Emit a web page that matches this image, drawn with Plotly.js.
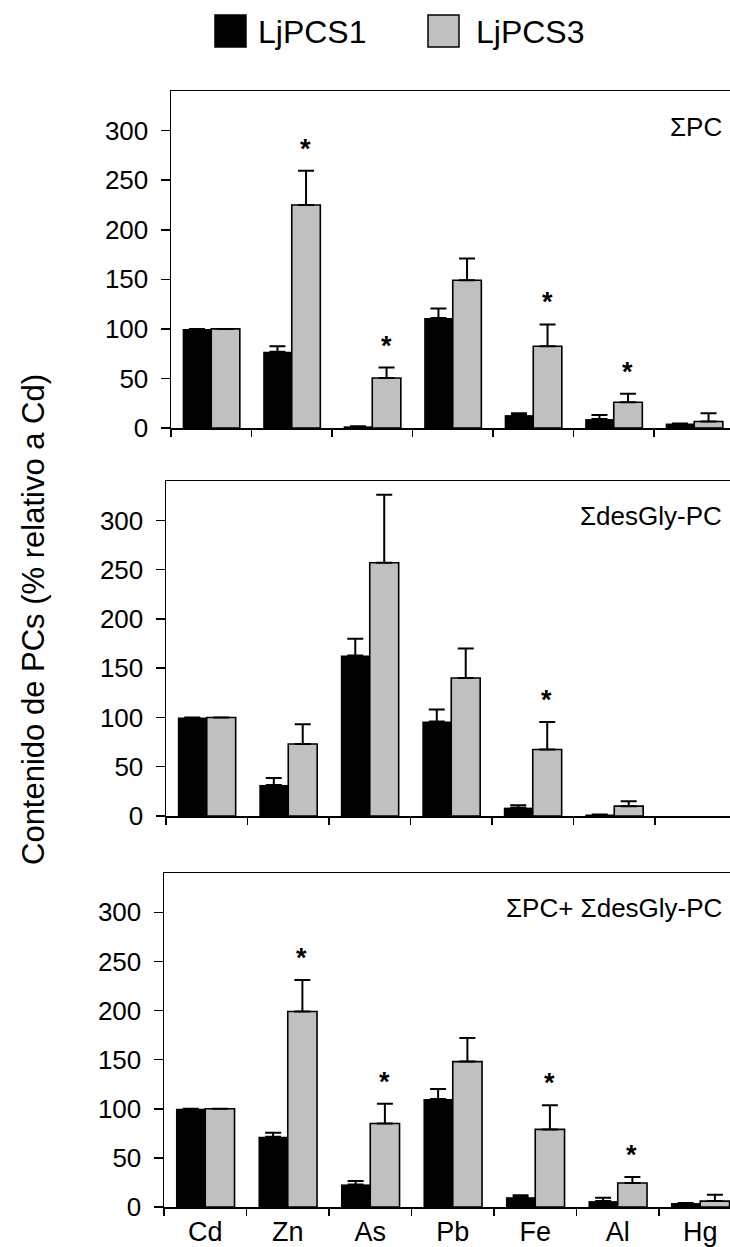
<!DOCTYPE html>
<html>
<head>
<meta charset="utf-8">
<script src="https://cdn.plot.ly/plotly-3.0.1.min.js"></script>
<style>html,body{margin:0;padding:0;background:#fff;}#chart{width:730px;height:1247px;}</style>
</head>
<body>
<div id="chart"></div>
<script>
const categories = ['Cd', 'Zn', 'As', 'Pb', 'Fe', 'Al', 'Hg'];
const seriesNames = ['LjPCS1', 'LjPCS3'];
const panelLabels = ['ΣPC', 'ΣdesGly-PC', 'ΣPC+ ΣdesGly-PC'];
const yTickVals = [0, 50, 100, 150, 200, 250, 300];
const yTitle = 'Contenido de PCs (% relativo a Cd)';

// Panel 1: ΣPC
const pcS1 = [100, 77, 1.7, 111, 13, 9, 4.5];
const pcS1Err = [0, 5.5, 0, 9.5, 2, 4, 0];
const pcS3 = [100, 225, 50.5, 149, 82.5, 26, 6.5];
const pcS3Err = [0, 34.5, 10.5, 22, 22, 8.5, 8.5];
const pcStars = [0, 1, 1, 0, 1, 1, 0];

// Panel 2: ΣdesGly-PC (Hg not detected)
const desS1 = [100, 31.5, 163, 96, 8.5, 1.5, null];
const desS1Err = [0, 7, 17, 12, 2.5, 0, 0];
const desS3 = [100, 73, 257, 140, 67.5, 10, null];
const desS3Err = [0, 20, 69, 30, 28, 5, 0];
const desStars = [0, 0, 0, 0, 1, 0, 0];

// Panel 3: ΣPC + ΣdesGly-PC
const totS1 = [100, 71.5, 23, 110, 10, 6, 4];
const totS1Err = [0, 4, 3.5, 10, 2, 3.5, 0];
const totS3 = [100, 199, 85, 148, 79, 24.5, 6];
const totS3Err = [0, 32, 20, 24, 24.5, 6, 6.5];
const totStars = [0, 1, 1, 0, 1, 1, 0];

const panels = [
  {s1: pcS1, e1: pcS1Err, s3: pcS3, e3: pcS3Err, stars: pcStars},
  {s1: desS1, e1: desS1Err, s3: desS3, e3: desS3Err, stars: desStars},
  {s1: totS1, e1: totS1Err, s3: totS3, e3: totS3Err, stars: totStars}
];

const W = 730, H = 1247;
const FONT = 'Liberation Sans, Arial, sans-serif';
// pixel geometry of each panel: [left, top, bottom]
const geom = [[171, 91, 428], [166, 481, 816], [164, 873, 1207]];
const catW = [80.5, 81.5, 82.5];

const colors = ['#000000', '#c0c0c0'];
const traces = [];
const annotations = [];
const layout = {
  width: W, height: H,
  margin: {l: 0, r: 0, t: 0, b: 0},
  paper_bgcolor: '#ffffff', plot_bgcolor: '#ffffff',
  showlegend: false,
  barmode: 'group', bargap: 0.29, bargroupgap: 0,
  font: {family: FONT, color: '#000', size: 26},
  annotations: annotations,
  shapes: []
};

panels.forEach((p, i) => {
  const n = i + 1;
  const xa = 'x' + (n === 1 ? '' : n), ya = 'y' + (n === 1 ? '' : n);
  const [left, top, bottom] = geom[i];
  const series = [[p.s1, p.e1], [p.s3, p.e3]];
  series.forEach(([vals, errs], k) => {
    traces.push({
      type: 'bar', x: categories, y: vals, name: seriesNames[k],
      xaxis: xa, yaxis: ya,
      marker: {color: colors[k], line: {color: '#000', width: k === 0 ? 0 : 1.6}},
      error_y: {type: 'data', symmetric: false, array: errs, arrayminus: errs.map(() => 0),
                visible: true, color: '#000', thickness: 2, width: 8},
      hoverinfo: 'skip'
    });
  });
  const xKey = 'xaxis' + (n === 1 ? '' : n), yKey = 'yaxis' + (n === 1 ? '' : n);
  layout[xKey] = {
    domain: [left / W, 1],
    anchor: ya,
    type: 'category',
    range: [-0.5, -0.5 + (W - left) / catW[i]],
    showline: true, linecolor: '#000', linewidth: 1.5, mirror: true,
    ticks: 'outside', tickson: 'boundaries', ticklen: 7, tickwidth: 1.5, tickcolor: '#000',
    showticklabels: n === 3,
    tickfont: {size: 27, family: FONT, color: '#000'},
    ticklabelstandoff: 0,
    showgrid: false, zeroline: false, fixedrange: true
  };
  layout[yKey] = {
    domain: [1 - bottom / H, 1 - top / H],
    anchor: xa,
    range: [0, 340],
    tickvals: yTickVals,
    showline: true, linecolor: '#000', linewidth: 1.5,
    ticks: 'outside', ticklen: 9, tickwidth: 1.5, tickcolor: '#000',
    tickfont: {size: 26, family: FONT, color: '#000'},
    ticklabelstandoff: 7,
    showgrid: false, zeroline: false, fixedrange: true
  };
  // significance stars above LjPCS3 bars
  p.stars.forEach((s, j) => {
    if (s) {
      annotations.push({
        xref: xa, yref: ya, x: categories[j], y: p.s3[j] + p.e3[j],
        text: '<b>*</b>', showarrow: false, xshift: 14, yshift: 5,
        yanchor: 'bottom', font: {size: 27, family: FONT, color: '#000'}
      });
    }
  });
  // panel label
  annotations.push({
    xref: 'paper', yref: ya, x: 1, y: 304, xanchor: 'right', yanchor: 'middle', xshift: -6,
    text: panelLabels[i], showarrow: false, font: {size: 26, family: FONT, color: '#000'}
  });
});

// y axis title
annotations.push({
  xref: 'paper', yref: 'paper', x: 33 / W, y: 1 - 620 / H, textangle: -90,
  xanchor: 'center', yanchor: 'middle', showarrow: false,
  text: yTitle, font: {size: 31, family: FONT, color: '#000'}
});

// custom legend with large swatches
const legendItems = [
  {x0: 215, x1: 246, tx: 256},
  {x0: 428, x1: 459, tx: 474}
];
legendItems.forEach((it, k) => {
  layout.shapes.push({
    type: 'rect', xref: 'paper', yref: 'paper',
    x0: it.x0 / W, x1: it.x1 / W, y0: 1 - 47 / H, y1: 1 - 15 / H,
    fillcolor: colors[k], line: {color: '#000', width: 1.5}
  });
  annotations.push({
    xref: 'paper', yref: 'paper', x: it.tx / W, y: 1 - 32 / H,
    xanchor: 'left', yanchor: 'middle', showarrow: false,
    text: seriesNames[k], font: {size: 32, family: FONT, color: '#000'}
  });
});

Plotly.newPlot('chart', traces, layout, {displayModeBar: false, staticPlot: true});
</script>
</body>
</html>
